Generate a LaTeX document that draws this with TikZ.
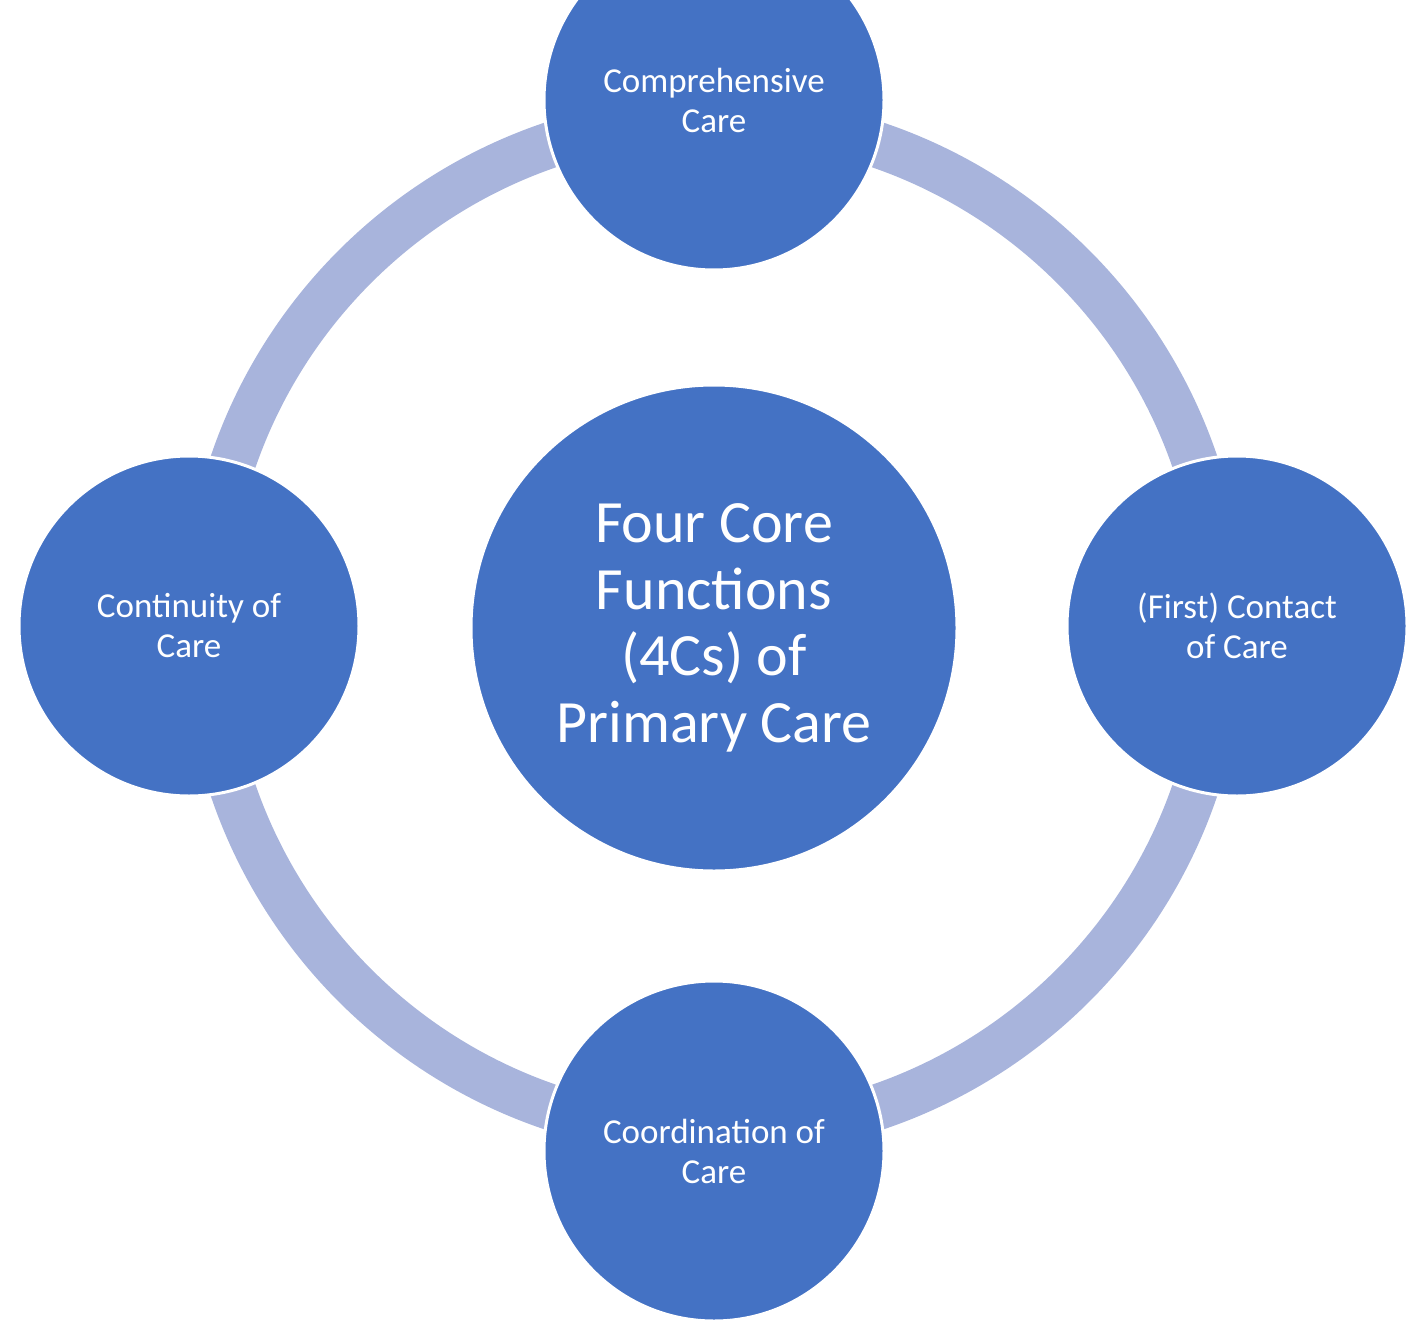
\documentclass[tikz,border=0pt]{standalone}
\usepackage{fontspec}
\setmainfont{Carlito}
\definecolor{cblue}{RGB}{68,114,196}
\definecolor{cring}{RGB}{168,180,220}
\begin{document}
\begin{tikzpicture}[x=1pt,y=-1pt,
  small/.style={circle,fill=cblue,draw=white,line width=3pt,minimum size=340pt,inner sep=0pt,
     text=white,align=center,font=\fontsize{35}{40}\selectfont},
  big/.style={circle,fill=cblue,draw=white,line width=3pt,minimum size=486pt,inner sep=0pt,
     text=white,align=center,font=\fontsize{60}{66.5}\selectfont},
  ring/.style={draw=cring,line width=46pt}]
\useasboundingbox (0,0) rectangle (1411,1322);
\clip (0,0) rectangle (1411,1322);
\coordinate (o) at (714,626);
\draw[ring] (o) circle[radius=508];
\node[big] (c) at (714,628) {Four Core\\Functions\\(4Cs) of\\Primary Care};
\node[small] (t) at (714,100) {Comprehensive\\Care};
\node[small] (r) at (1237,626) {(First) Contact\\of Care};
\node[small] (b) at (714,1151) {Coordination of\\Care};
\node[small] (l) at (189,626) {Continuity of\\Care};
\end{tikzpicture}
\end{document}
